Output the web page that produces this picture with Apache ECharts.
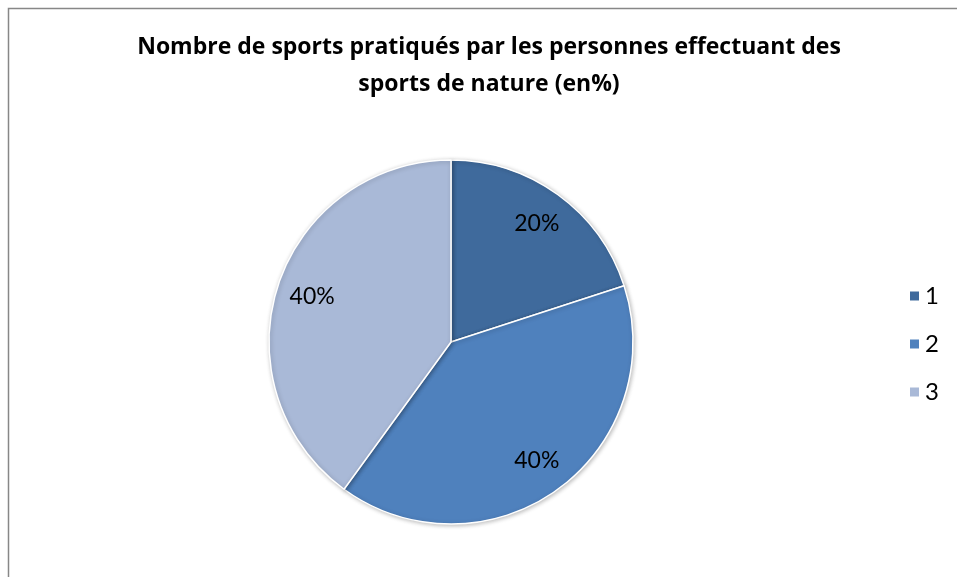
<!DOCTYPE html>
<html>
<head>
<meta charset="utf-8">
<script src="https://cdn.jsdelivr.net/npm/echarts@6/dist/echarts.min.js"></script>
<style>
  html, body { margin: 0; padding: 0; background: #fff; }
  #chart { width: 957px; height: 577px; }
</style>
</head>
<body>
<div id="chart"></div>
<script>
const titleText = 'Nombre de sports pratiqués par les personnes effectuant des\nsports de nature (en%)';
const categories = ['1', '2', '3'];
const values = [20, 40, 40];
const colors = ['#3F6A9C', '#4F81BD', '#A9B9D7'];

const chart = echarts.init(document.getElementById('chart'), null, { renderer: 'canvas' });

const data = categories.map((name, i) => ({
  name,
  value: values[i],
  itemStyle: { color: colors[i] },
}));

chart.setOption({
  animation: false,
  backgroundColor: '#fff',
  title: {
    text: titleText,
    left: 489,
    textAlign: 'center',
    top: 29,
    padding: 0,
    textStyle: {
      fontFamily: 'Open Sans',
      fontWeight: 'bold',
      fontSize: 23,
      lineHeight: 37,
      color: '#000',
    },
  },
  legend: {
    orient: 'vertical',
    left: 908,
    top: 284,
    padding: 0,
    itemWidth: 11,
    itemHeight: 11,
    itemGap: 24,
    icon: 'rect',
    data: categories,
    textStyle: { fontFamily: 'Lato', fontSize: 24, lineHeight: 24, color: '#000' },
  },
  // frame of the chart area; it runs off the right and bottom edges
  graphic: [
    {
      type: 'rect',
      shape: { x: 8.5, y: 8.5, width: 1200, height: 1200 },
      style: { fill: 'none', stroke: '#878787', lineWidth: 1.5 },
      silent: true,
    },
  ],
  series: [
    {
      type: 'pie',
      center: [451, 342],
      radius: 182,
      startAngle: 90,
      clockwise: true,
      label: { show: false },
      labelLine: { show: false },
      emphasis: { disabled: true },
      itemStyle: {
        borderColor: '#fff',
        borderWidth: 1.5,
        shadowBlur: 4,
        shadowOffsetX: 1,
        shadowOffsetY: 1,
        shadowColor: 'rgba(0,0,0,0.25)',
      },
      data,
    },
    {
      // transparent ring, only used to place labels at ~0.78 of the radius
      type: 'pie',
      center: [451, 342],
      radius: [104, 182],
      startAngle: 90,
      clockwise: true,
      silent: true,
      legendHoverLink: false,
      emphasis: { disabled: true },
      itemStyle: { color: 'rgba(0,0,0,0)' },
      label: {
        show: true,
        position: 'inside',
        formatter: (p) => p.value + '%',
        fontFamily: 'Lato',
        fontSize: 23,
        color: '#000',
      },
      labelLine: { show: false },
      data: categories.map((name, i) => ({ name, value: values[i] })),
    },
  ],
});
</script>
</body>
</html>
